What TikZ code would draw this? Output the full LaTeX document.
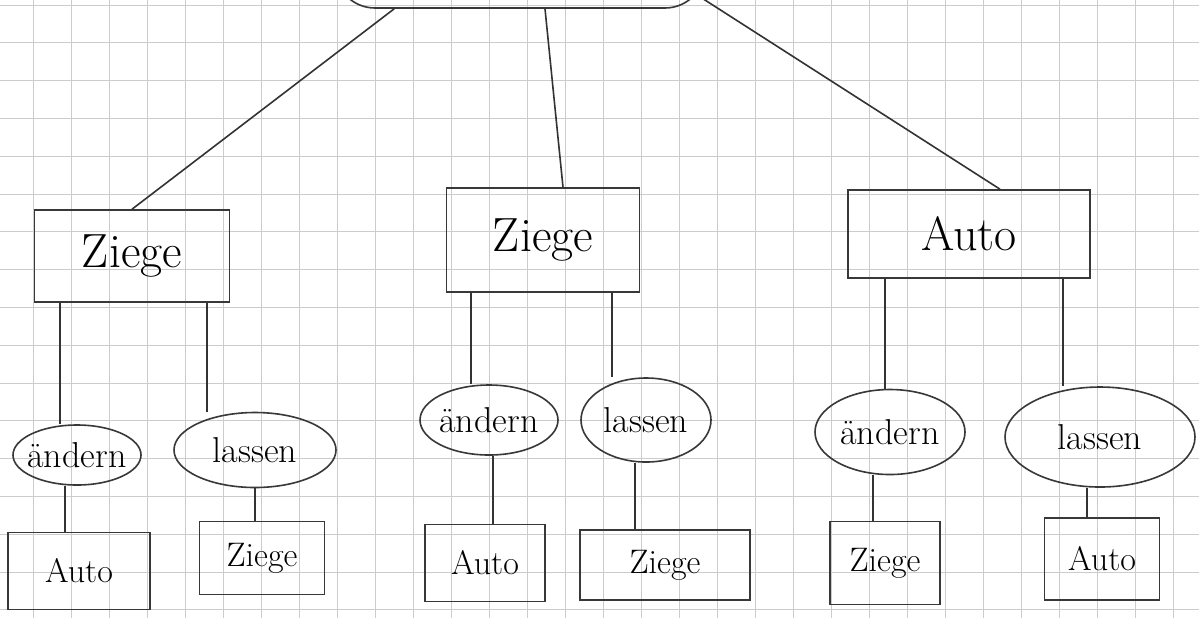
\documentclass[tikz,border=0pt]{standalone}
\usepackage{fontspec}
\usetikzlibrary{shapes.geometric,calc}
\tikzset{
  pen/.style={draw=black!78, line width=0.8pt},
  gridline/.style={draw=black!20, line width=0.5pt},
  choice/.style={pen, ellipse, inner sep=0pt},
  outcome/.style={pen, rectangle, inner sep=2pt},
  link/.style={draw=black!80, line width=0.8pt},
  bigtext/.style={font=\fontsize{24}{28}\selectfont},
  midtext/.style={font=\fontsize{18}{22}\selectfont},
  smalltext/.style={font=\fontsize{17}{20}\selectfont},
}
\newcommand\vlink[3]{\coordinate (vx) at (#3,0); \draw[link] (#1.south -| vx) -- (#2.north -| vx);}
\begin{document}
\begin{tikzpicture}[x=0.5pt,y=-0.5pt]
\useasboundingbox (0,0) rectangle (1199,618);
\fill[white] (0,0) rectangle (1199,618);
\clip (0,0) rectangle (1199,618);
% graph paper
\foreach \i in {0,...,30} \draw[gridline] ({33+38*\i},0) -- ({33+38*\i},618);
\foreach \j in {0,...,16} \draw[gridline] (0,{5+37.8*\j}) -- (1199,{5+37.8*\j});

% root (cut off at the top)
\node[pen, rectangle, rounded corners=20pt, minimum width=185pt, minimum height=58pt] (root) at (520,-50) {};

% level 1
\node[outcome, bigtext, minimum width=97.5pt, minimum height=46pt] (z1) at (132,256) {Ziege};
\node[outcome, bigtext, minimum width=96.5pt, minimum height=52pt] (z2) at (543,240) {Ziege};
\node[outcome, bigtext, minimum width=121pt, minimum height=44pt] (a0) at (969,234) {Auto};

\coordinate (rl) at ($(root.south west)+(60,0)$);
\coordinate (rm) at ($(root.south)+(25,0)$);
\coordinate (rr) at ($(root.south east)+(-9,-14)$);
\draw[link] (rl) -- (z1.north);
\draw[link] (rm) -- ($(z2.north)+(20,0)$);
\draw[link] (rr) -- ($(a0.north)+(31,0)$);

% level 2
\node[choice, minimum width=64pt, minimum height=30pt, label={[midtext]center:ändern}] (c1) at (77,455) {};
\node[choice, minimum width=81pt, minimum height=37.5pt, label={[midtext]center:lassen}] (c2) at (255,450) {};
\node[choice, minimum width=69pt, minimum height=35pt, label={[midtext]center:ändern}] (c3) at (489,420) {};
\node[choice, minimum width=65pt, minimum height=42pt, label={[midtext]center:lassen}] (c4) at (646,420) {};
\node[choice, minimum width=75pt, minimum height=42.5pt, label={[midtext]center:ändern}] (c5) at (890,432) {};
\node[choice, minimum width=95pt, minimum height=50pt, label={[midtext]center:lassen}] (c6) at (1100,437) {};

% level 3
\node[outcome, smalltext, minimum width=71pt, minimum height=38.5pt] (o1) at (79,571) {Auto};
\node[outcome, smalltext, minimum width=62.5pt, minimum height=36.5pt] (o2) at (262,558) {Ziege};
\node[outcome, smalltext, minimum width=60pt, minimum height=38.5pt] (o3) at (485,563) {Auto};
\node[outcome, smalltext, minimum width=85pt, minimum height=35pt] (o4) at (665,565) {Ziege};
\node[outcome, smalltext, minimum width=55pt, minimum height=41.5pt] (o5) at (885,563) {Ziege};
\node[outcome, smalltext, minimum width=57.5pt, minimum height=41pt] (o6) at (1102,559) {Auto};

% connectors
\vlink{z1}{c1}{60} \vlink{z1}{c2}{207}
\vlink{z2}{c3}{471} \vlink{z2}{c4}{612}
\vlink{a0}{c5}{885} \vlink{a0}{c6}{1063}
\vlink{c1}{o1}{65} \vlink{c2}{o2}{255}
\vlink{c3}{o3}{493} \vlink{c4}{o4}{635}
\vlink{c5}{o5}{873} \vlink{c6}{o6}{1087}
\end{tikzpicture}
\end{document}
